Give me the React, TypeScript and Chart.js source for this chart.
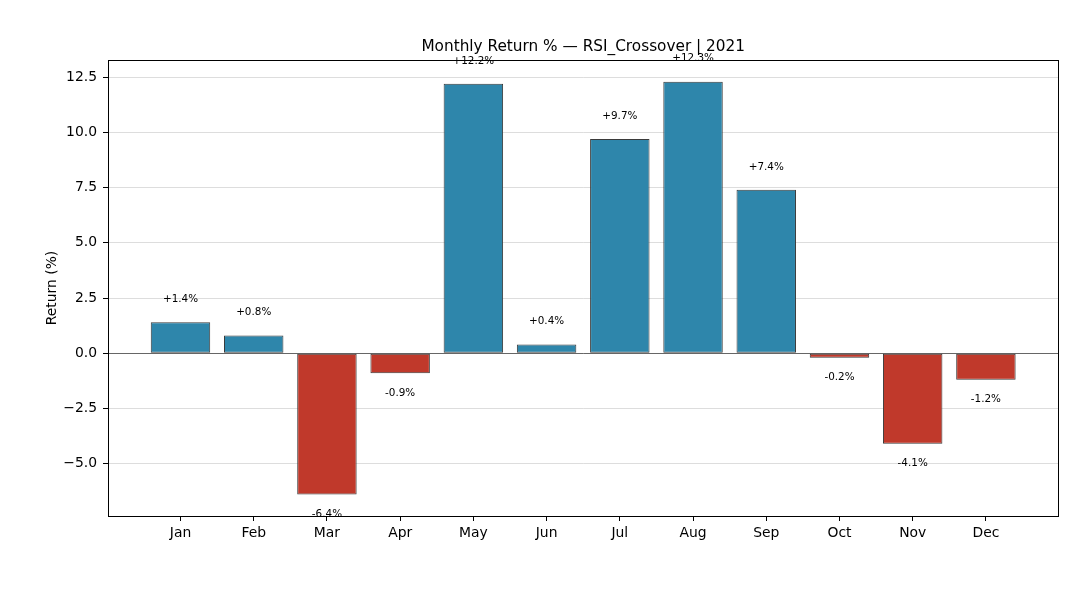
import React, { useEffect, useRef } from 'react';
import { Chart, registerables } from 'chart.js';

Chart.register(...registerables);

const months = ['Jan', 'Feb', 'Mar', 'Apr', 'May', 'Jun', 'Jul', 'Aug', 'Sep', 'Oct', 'Nov', 'Dec'];
const returns = [1.4, 0.8, -6.4, -0.9, 12.2, 0.4, 9.7, 12.3, 7.4, -0.2, -4.1, -1.2];
const titleText = 'Monthly Return % \u2014 RSI_Crossover | 2021';
const yLabelText = 'Return (%)';
const POS_COLOR = '#2E86AB';
const NEG_COLOR = '#C0392B';
const FONT = '"DejaVu Sans", sans-serif';

const overlay = {
  id: 'overlay',
  afterDatasetsDraw(chart: any) {
    const ctx = chart.ctx;
    const { left, right, top, bottom } = chart.chartArea;
    const meta = chart.getDatasetMeta(0);
    ctx.save();
    // value labels
    ctx.font = `10.4px ${FONT}`;
    ctx.fillStyle = '#000';
    ctx.textAlign = 'center';
    ctx.textBaseline = 'middle';
    meta.data.forEach((el: any, i: number) => {
      const v = returns[i];
      const txt = (v >= 0 ? '+' : '') + v.toFixed(1) + '%';
      const y = v >= 0 ? el.y - 23 : el.y + 20;
      ctx.fillText(txt, el.x, y);
    });
    // frame
    ctx.strokeStyle = '#000';
    ctx.lineWidth = 1;
    ctx.strokeRect(Math.round(left) + 0.5, Math.round(top) + 0.5, Math.round(right - left), Math.round(bottom - top));
    // title
    ctx.font = `15.3px ${FONT}`;
    ctx.fillText(titleText, (left + right) / 2, 47);
    // y label
    ctx.font = `13.9px ${FONT}`;
    ctx.translate(52.5, (top + bottom) / 2);
    ctx.rotate(-Math.PI / 2);
    ctx.fillText(yLabelText, 0, 0);
    ctx.restore();
  },
};

export default function App() {
  const ref = useRef<HTMLCanvasElement | null>(null);
  useEffect(() => {
    if (!ref.current) return;
    const chart = new Chart(ref.current, {
      type: 'bar',
      data: {
        datasets: [
          {
            data: returns.map((v, i) => ({ x: i, y: v })),
            backgroundColor: returns.map((v) => (v >= 0 ? POS_COLOR : NEG_COLOR)),
            borderColor: '#3a3a3a',
            borderWidth: 1,
            borderSkipped: false,
            barPercentage: 0.812,
            categoryPercentage: 1.0,
          } as any,
        ],
      },
      options: {
        responsive: false,
        animation: false,
        devicePixelRatio: 1,
        layout: { padding: { left: 0, top: 60, right: 21.6, bottom: 0 } },
        plugins: {
          legend: { display: false },
          tooltip: { enabled: false },
          title: { display: false },
        },
        scales: {
          x: {
            type: 'linear',
            min: -0.99,
            max: 11.99,
            offset: false,
            afterFit: (s: any) => {
              s.height = 84;
            },
            grid: {
              offset: false,
              drawOnChartArea: false,
              drawTicks: true,
              tickLength: 5,
              tickColor: '#000',
            },
            border: { display: false },
            ticks: {
              stepSize: 1,
              includeBounds: false,
              autoSkip: false,
              maxRotation: 0,
              padding: 4,
              color: '#000',
              font: { family: FONT, size: 13.9 },
              callback: (v: any) => (Number.isInteger(v) ? months[v] : ''),
            },
          } as any,
          y: {
            min: -7.37,
            max: 13.28,
            afterFit: (s: any) => {
              s.width = 108;
            },
            grid: {
              color: (c: any) => (c.tick && c.tick.value === 0 ? '#666666' : '#dddddd'),
              lineWidth: 1,
              drawTicks: true,
              tickLength: 5,
              tickColor: '#000',
            },
            border: { display: false },
            ticks: {
              stepSize: 2.5,
              includeBounds: false,
              padding: 6,
              color: '#000',
              font: { family: FONT, size: 13.9 },
              callback: (v: any) => Number(v).toFixed(1).replace('-', '\u2212'),
            },
          } as any,
        },
      },
      plugins: [overlay],
    });
    return () => chart.destroy();
  }, []);
  return (
    <div style={{ position: 'fixed', left: 0, top: 0, width: 1080, height: 600, background: '#fff' }}>
      <canvas ref={ref} width={1080} height={600} style={{ width: 1080, height: 600 }} />
    </div>
  );
}
